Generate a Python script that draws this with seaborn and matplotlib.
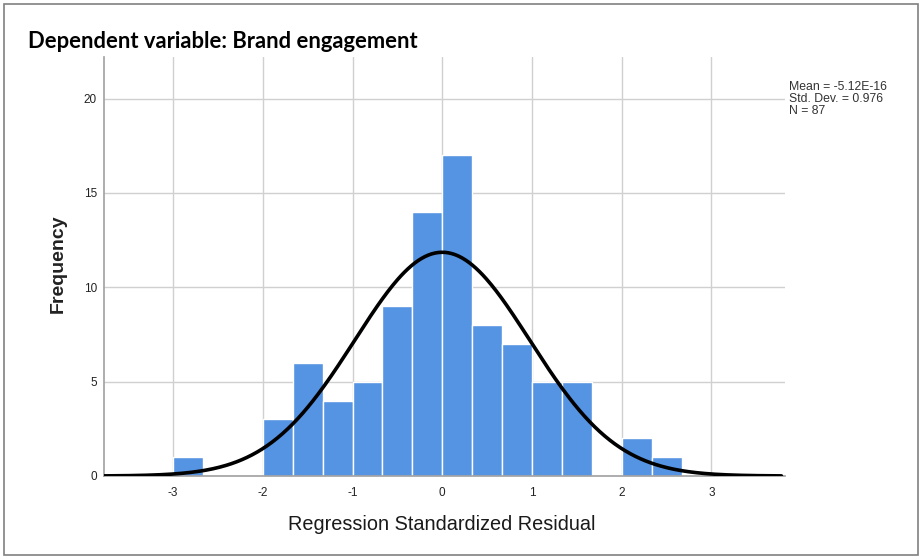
import numpy as np
import pandas as pd
import matplotlib
matplotlib.use("Agg")
import matplotlib.pyplot as plt
import seaborn as sns
from matplotlib.patches import Rectangle

# ---- data ----
bin_left = [-3.0, -2.6667, -2.3333, -2.0, -1.6667, -1.3333, -1.0, -0.6667, -0.3333,
            0.0, 0.3333, 0.6667, 1.0, 1.3333, 1.6667, 2.0, 2.3333]
counts = [1, 0, 0, 3, 6, 4, 5, 9, 14, 17, 8, 7, 5, 5, 0, 2, 1]
bin_width = 1 / 3
mean_val = -5.12e-16
std_val = 0.976
n_val = 87
x_ticks = [-3, -2, -1, 0, 1, 2, 3]
y_ticks = [0, 5, 10, 15, 20]

title = "Dependent variable: Brand engagement"
xlabel = "Regression Standardized Residual"
ylabel = "Frequency"

sns.set_theme(style="white")
plt.rcParams['font.family'] = ['Liberation Sans', 'DejaVu Sans']
plt.rcParams['axes.unicode_minus'] = False

fig = plt.figure(figsize=(9.22, 5.58), dpi=100)
ax = fig.add_axes([104/922, 82/558, (785-104)/922, (476-57)/558])

df = pd.DataFrame({"center": np.array(bin_left) + bin_width / 2, "count": counts})
edges = list(bin_left) + [bin_left[-1] + bin_width]

ax.set_axisbelow(True)
ax.grid(True, color="#d0d0d0", linewidth=1.0)
sns.histplot(data=df, x="center", weights="count", bins=edges, ax=ax,
             color="#5593e3", alpha=1.0, edgecolor="white", linewidth=1.0, zorder=2)

xs = np.linspace(-3.77, 3.78, 400)
ys = n_val * bin_width * np.exp(-0.5 * ((xs - mean_val) / std_val) ** 2) / (std_val * np.sqrt(2 * np.pi))
sns.lineplot(x=xs, y=ys, ax=ax, color="black", linewidth=2.6, zorder=3)

ax.set_xlim(-3.77, 3.82)
ax.set_ylim(0, 22.2)
ax.set_xticks(x_ticks)
ax.set_yticks(y_ticks)
ax.tick_params(axis="x", length=0, labelsize=8.5, colors="#222222", pad=8)
ax.tick_params(axis="y", length=0, labelsize=8.5, colors="#222222", pad=5)
ax.set_xlabel("")
ax.set_ylabel("")
for side in ["top", "right"]:
    ax.spines[side].set_visible(False)
for side in ["left", "bottom"]:
    ax.spines[side].set_color("#a0a0a0")
    ax.spines[side].set_linewidth(1.2)

fig.text(28/922, 1 - 42/558, title, fontsize=15.8, fontweight="bold",
         family=["Lato", "DejaVu Sans"], va="center", ha="left", color="black")
fig.text(58/922, 1 - 264/558, ylabel, fontsize=14, fontweight="bold", rotation=90,
         va="center", ha="center", color="#222222")
fig.text(442/922, 1 - 524/558, xlabel, fontsize=14.3,
         va="center", ha="center", color="#1a1a1a")
fig.text(789/922, 1 - 81/558,
         f"Mean = -5.12E-16\nStd. Dev. = {std_val}\nN = {n_val}",
         fontsize=8.8, va="top", ha="left", color="#333333", linespacing=1.0)

fig.patches.append(Rectangle((4/922, 3/558), 914/922, 551/558, transform=fig.transFigure,
                             fill=False, edgecolor="#808080", linewidth=1.2))

fig.savefig("out.png", dpi=100)
